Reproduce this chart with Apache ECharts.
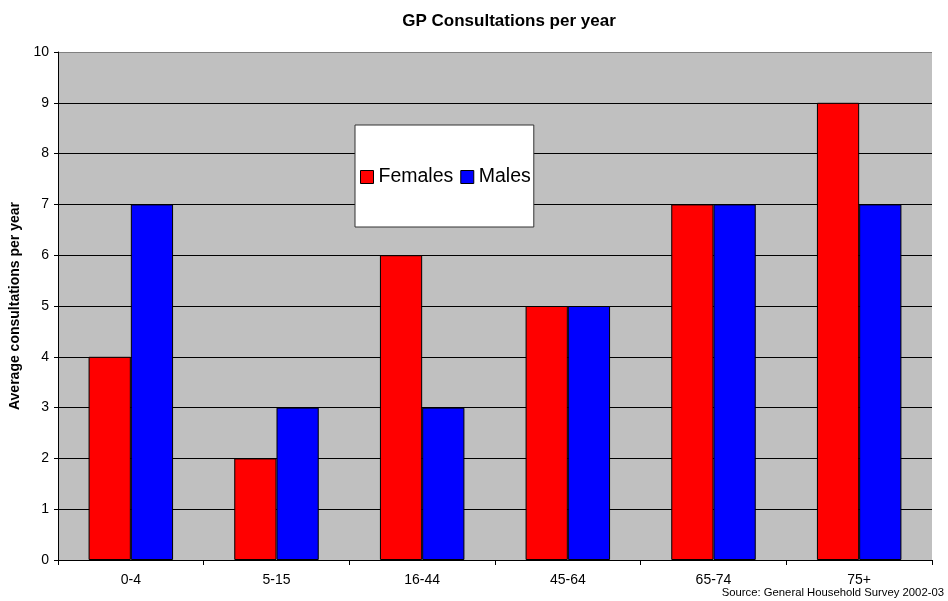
<!DOCTYPE html>
<html><head><meta charset="utf-8">
<script src="https://cdn.jsdelivr.net/npm/echarts@6/dist/echarts.min.js"></script>
<style>html,body{margin:0;padding:0;background:#fff}#c{width:948px;height:601px}</style>
</head><body><div id="c"></div>
<script>
var categories = ['0-4','5-15','16-44','45-64','65-74','75+'];
var females = [4,2,6,5,7,9];
var males = [7,3,3,5,7,7];
var yTicks = [0,1,2,3,4,5,6,7,8,9,10];

var chart = echarts.init(document.getElementById('c'));
var F = 'Liberation Sans, Arial, sans-serif';
var splitColors = yTicks.map(function(v){ return v === 10 ? '#808080' : '#000'; });
chart.setOption({
  animation:false,
  backgroundColor:'#fff',
  textStyle:{fontFamily:F},
  title:[{text:'GP Consultations per year',left:504,top:8,textAlign:'center',
    textStyle:{fontSize:17,fontWeight:'bold',color:'#000',fontFamily:F}},
    {text:'Source: General Household Survey 2002-03',right:-1,top:582,
    textStyle:{fontSize:11.3,fontWeight:'normal',color:'#000',fontFamily:F}}],
  legend:{left:355,top:125,padding:[42,3,40,5],itemGap:7,icon:'rect',
    backgroundColor:'#fff',borderColor:'#333',borderWidth:1,
    itemWidth:13,itemHeight:13,
    textStyle:{fontSize:19.5,lineHeight:20,color:'#000',fontFamily:F},
    data:[{name:'Females',itemStyle:{borderColor:'#000',borderWidth:1}},{name:'Males',itemStyle:{borderColor:'#000',borderWidth:1}}]},
  grid:{left:58,right:16,top:52,bottom:41,show:true,backgroundColor:'#c0c0c0',borderWidth:0},
  xAxis:{type:'category',data:categories,boundaryGap:true,
    axisLine:{lineStyle:{color:'#000',width:1}},
    axisTick:{show:true,length:5,inside:false,lineStyle:{color:'#000'}},
    axisLabel:{fontSize:14,color:'#000',margin:13,fontFamily:F},
    splitLine:{show:false}},
  yAxis:{type:'value',min:0,max:10,interval:1,
    name:'Average consultations per year',nameLocation:'middle',nameGap:31,nameRotate:90,
    nameTextStyle:{fontSize:14,fontWeight:'bold',color:'#000',fontFamily:F},
    axisLine:{show:true,lineStyle:{color:'#000',width:1}},
    axisTick:{show:true,length:4,lineStyle:{color:'#000'}},
    axisLabel:{fontSize:14,color:'#000',margin:9,fontFamily:F},
    splitLine:{show:true,lineStyle:{color:splitColors,width:1}}},
  series:[
    {name:'Females',type:'bar',data:females,barGap:'0%',barCategoryGap:'42%',
     itemStyle:{color:'#ff0000',borderColor:'#000',borderWidth:1}},
    {name:'Males',type:'bar',data:males,
     itemStyle:{color:'#0000ff',borderColor:'#000',borderWidth:1}}
  ]
});
</script></body></html>
